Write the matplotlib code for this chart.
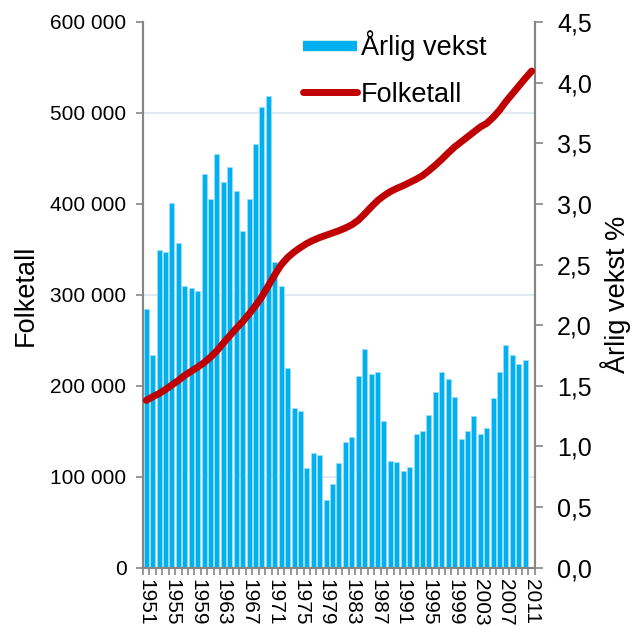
import numpy as np
import matplotlib.pyplot as plt
from matplotlib.ticker import MultipleLocator, FixedLocator
from matplotlib.lines import Line2D

plt.rcParams['font.family'] = ['Liberation Sans', 'DejaVu Sans']

# years 1951-2011
years = list(range(1951, 2012))

# annual growth in percent (no bar for 2011)
vekst = [2.13, 1.75, 2.62, 2.60, 3.01, 2.68, 2.32, 2.31, 2.28, 3.25,
         3.04, 3.41, 3.18, 3.30, 3.11, 2.78, 3.04, 3.49, 3.80, 3.89,
         2.52, 2.32, 1.65, 1.32, 1.29, 0.82, 0.95, 0.93, 0.56, 0.69,
         0.86, 1.04, 1.08, 1.58, 1.80, 1.60, 1.61, 1.21, 0.88, 0.87,
         0.80, 0.83, 1.10, 1.13, 1.26, 1.45, 1.61, 1.56, 1.41, 1.06,
         1.13, 1.25, 1.10, 1.15, 1.40, 1.61, 1.84, 1.75, 1.68, 1.71,
         np.nan]

# population
folketall = [184000, 188000, 191500, 196000, 201000, 206000, 211500, 216000, 220500, 225500,
             231500, 238500, 247000, 255000, 263000, 270500, 279000, 288000, 298000, 310000,
             322000, 333000, 341000, 347000, 352000, 356500, 360000, 363000, 365500, 368000,
             370500, 373500, 377000, 382000, 389000, 396500, 403500, 409000, 413500, 417000,
             420000, 423500, 427000, 431000, 436500, 442500, 449000, 456000, 462500, 468000,
             473500, 479000, 484500, 488500, 495000, 503000, 512500, 521000, 529500, 538000,
             546000]

left_ticks = [0, 100000, 200000, 300000, 400000, 500000, 600000]
left_labels = ['0', '100 000', '200 000', '300 000', '400 000', '500 000', '600 000']
right_ticks = [0, 0.5, 1.0, 1.5, 2.0, 2.5, 3.0, 3.5, 4.0, 4.5]
right_labels = ['0,0', '0,5', '1,0', '1,5', '2,0', '2,5', '3,0', '3,5', '4,0', '4,5']

bar_color = '#00B0F0'
line_color = '#C00000'
axis_gray = '#868686'

fig = plt.figure(figsize=(6.33, 6.26), dpi=100)
ax = fig.add_axes([0.226, 0.093, 0.619, 0.872])
ax2 = ax.twinx()
x = np.arange(len(years))

# bars (right scale) at the bottom
ax.bar(x, vekst, width=0.78, color=bar_color, edgecolor='#9EDFF8', linewidth=0.6, zorder=2)
ax.set_ylim(0, 4.5)
ax.set_xlim(-0.5, len(years) - 0.5)
# gridlines that follow the left scale (100 000 = 0.75 %)
ax.yaxis.set_minor_locator(MultipleLocator(0.75))
ax.grid(which='minor', axis='y', color='#DCE6F2', linewidth=1.2, zorder=0)
ax.set_axisbelow(True)

# x ticks: marks between categories, labels every 4 years
ax.set_xticks(x[::4])
ax.set_xticklabels([str(y) for y in years[::4]], rotation=270, fontsize=15)
ax.xaxis.set_minor_locator(FixedLocator(np.arange(-0.5, len(years), 1.0)))
ax.tick_params(axis='x', which='major', length=0, pad=8)
ax.tick_params(axis='x', which='minor', length=5, color=axis_gray, width=1.2)

# line (left scale) on top
ax2.plot(x, folketall, color=line_color, linewidth=5, solid_capstyle='round', zorder=3)
ax2.set_ylim(0, 600000)

# swap sides: percent on the right, population on the left
ax.yaxis.tick_right()
ax.yaxis.set_label_position('right')
ax.set_yticks(right_ticks)
ax.set_yticklabels(right_labels)
ax.tick_params(axis='y', which='minor', length=0)
ax.tick_params(axis='y', which='major', length=6, labelsize=18, pad=10)
ax.set_ylabel('Årlig vekst %', fontsize=19.5, rotation=90, labelpad=6)

ax2.yaxis.tick_left()
ax2.yaxis.set_label_position('left')
ax2.set_yticks(left_ticks)
ax2.set_yticklabels(left_labels)
ax2.tick_params(axis='y', which='major', length=5, labelsize=15, pad=7)
ax2.set_ylabel('Folketall', fontsize=19.5, labelpad=8)

for a in (ax, ax2):
    a.spines['top'].set_visible(False)
    for s in ('left', 'right', 'bottom'):
        a.spines[s].set_color(axis_gray)
        a.spines[s].set_linewidth(1.5)
    a.tick_params(axis='y', which='major', color=axis_gray, width=1.2)

handles = [Line2D([0], [0], color=bar_color, linewidth=7.5, solid_capstyle='butt'),
           Line2D([0], [0], color=line_color, linewidth=5, solid_capstyle='round')]
fig.legend(handles, ['Årlig vekst', 'Folketall'], loc='upper left',
           bbox_to_anchor=(0.44, 0.99), frameon=False, fontsize=19.5,
           handlelength=2.0, handletextpad=0.15, labelspacing=0.75)

fig.savefig('out.png', dpi=100)
